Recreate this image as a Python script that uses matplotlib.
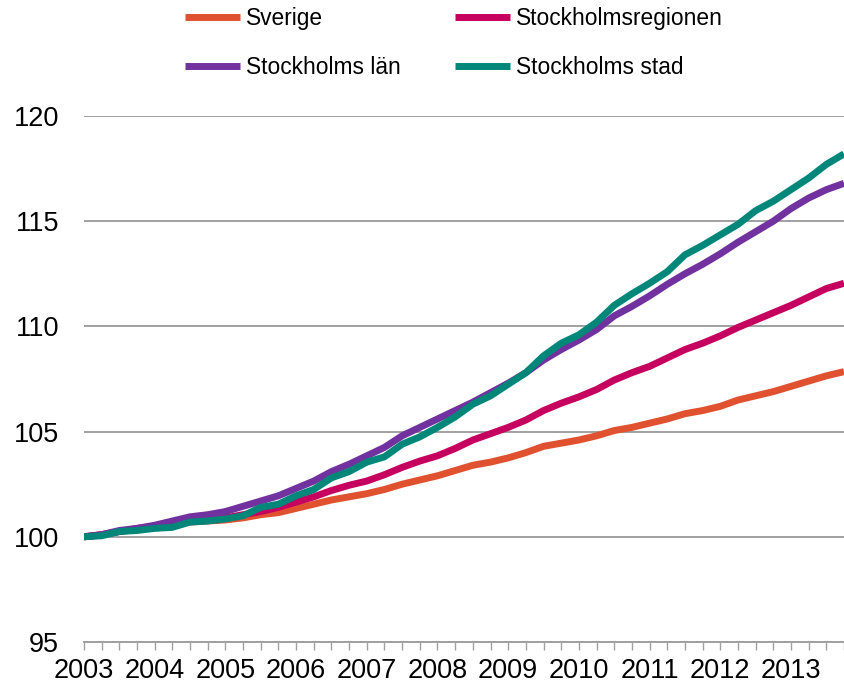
import matplotlib
matplotlib.use("Agg")
import matplotlib.pyplot as plt
import numpy as np

plt.rcParams['font.family'] = ['Liberation Sans', 'DejaVu Sans']

# quarterly index, 2003 Q1 .. 2013 Q4
years = list(range(2003, 2014))
n_quarters = 44

sverige = [100.0, 100.1, 100.25, 100.35, 100.45, 100.6, 100.7, 100.75, 100.8, 100.9,
           101.05, 101.15, 101.35, 101.55, 101.75, 101.9, 102.05, 102.25, 102.5, 102.7,
           102.9, 103.15, 103.4, 103.55, 103.75, 104.0, 104.3, 104.45, 104.6, 104.8,
           105.05, 105.2, 105.4, 105.6, 105.85, 106.0, 106.2, 106.5, 106.7, 106.9,
           107.15, 107.4, 107.65, 107.85]
sthlm_region = [100.0, 100.1, 100.25, 100.4, 100.5, 100.65, 100.75, 100.8, 100.9, 101.05,
                101.2, 101.4, 101.65, 101.9, 102.2, 102.45, 102.65, 102.95, 103.3, 103.6,
                103.85, 104.2, 104.6, 104.9, 105.2, 105.55, 106.0, 106.35, 106.65, 107.0,
                107.45, 107.8, 108.1, 108.5, 108.9, 109.2, 109.55, 109.95, 110.3, 110.65,
                111.0, 111.4, 111.8, 112.05]
sthlm_lan = [100.0, 100.1, 100.3, 100.4, 100.55, 100.75, 100.95, 101.05, 101.2, 101.45,
             101.7, 101.95, 102.3, 102.65, 103.1, 103.45, 103.85, 104.25, 104.8, 105.2,
             105.6, 106.0, 106.4, 106.85, 107.3, 107.8, 108.4, 108.9, 109.35, 109.85,
             110.5, 110.95, 111.45, 112.0, 112.5, 112.95, 113.45, 114.0, 114.5, 115.0,
             115.6, 116.1, 116.5, 116.8]
sthlm_stad = [100.0, 100.05, 100.25, 100.3, 100.4, 100.45, 100.7, 100.75, 100.85, 101.0,
              101.4, 101.55, 101.95, 102.25, 102.8, 103.1, 103.55, 103.8, 104.4, 104.75,
              105.2, 105.7, 106.3, 106.7, 107.25, 107.8, 108.6, 109.2, 109.6, 110.2,
              111.0, 111.55, 112.05, 112.6, 113.4, 113.85, 114.35, 114.85, 115.5, 115.95,
              116.5, 117.05, 117.7, 118.2]

x = np.arange(n_quarters)

fig = plt.figure(figsize=(8.44, 6.87), dpi=100)
ax = fig.add_axes([84/844, 1 - 642/687, 1 - 84/844, (642 - 116)/687])

lw = 5.0
l1, = ax.plot(x, sverige, color='#e0512f', lw=lw, label='Sverige', solid_capstyle='butt')
l2, = ax.plot(x, sthlm_region, color='#c6005f', lw=lw, label='Stockholmsregionen', solid_capstyle='butt')
l3, = ax.plot(x, sthlm_lan, color='#7132a0', lw=lw, label='Stockholms län', solid_capstyle='butt')
l4, = ax.plot(x, sthlm_stad, color='#00877a', lw=lw, label='Stockholms stad', solid_capstyle='butt')

ax.set_xlim(0, n_quarters - 1)
ax.set_ylim(95, 120)
ax.set_yticks([95, 100, 105, 110, 115, 120])
ax.grid(axis='y', color='#a0a0a0', lw=1.4)
ax.set_axisbelow(True)

ax.set_xticks(np.arange(0, n_quarters, 4))
ax.set_xticklabels([str(y) for y in years])
ax.set_xticks(np.arange(0, n_quarters), minor=True)
ax.tick_params(axis='x', which='both', length=5.5, width=1, color='#a0a0a0',
               labelsize=19.5, pad=6)
ax.tick_params(axis='y', length=0, labelsize=19.5, pad=18)

for s in ['top', 'right', 'left']:
    ax.spines[s].set_visible(False)
ax.spines['bottom'].set_color('#a0a0a0')
ax.spines['bottom'].set_linewidth(1.4)

fig.legend([l1, l3, l2, l4],
           ['Sverige', 'Stockholms län', 'Stockholmsregionen', 'Stockholms stad'],
           ncol=2, loc='upper left', bbox_to_anchor=(185/844, 1 - 7/687),
           frameon=False, fontsize=16.4, handlelength=2.4, handletextpad=0.26,
           columnspacing=2.4, labelspacing=1.13, borderpad=0, borderaxespad=0)

fig.savefig('out.png', dpi=100)
